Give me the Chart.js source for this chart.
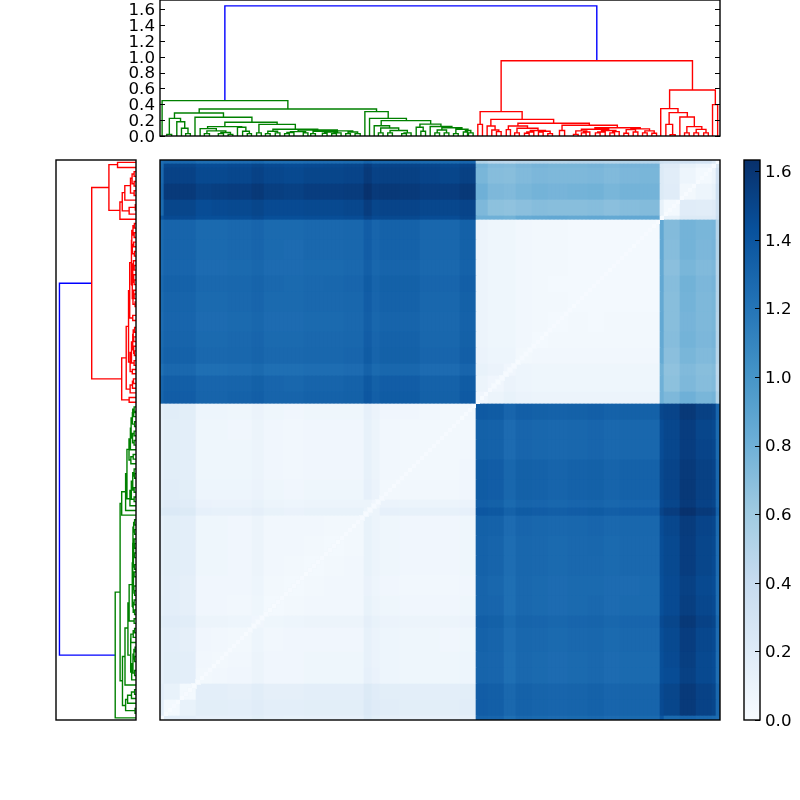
<!DOCTYPE html>
<html><head><meta charset="utf-8">
<style>html,body{margin:0;padding:0;background:#fff;width:800px;height:800px;overflow:hidden}canvas{position:absolute;left:0;top:0}</style>
<script src="https://cdn.jsdelivr.net/npm/chart.js@4"></script>
</head><body>
<canvas id="top" width="800" height="800"></canvas>
<canvas id="left" width="800" height="800"></canvas>
<canvas id="heat" width="800" height="800"></canvas>
<canvas id="bar" width="800" height="800"></canvas>
<script>
// Dendrogram links: [leafLeft, leafRight, height, heightLeft, heightRight]
const blueLinks=[[13.9,93.6,1.642,.446,.95]];
const greenLinks=[
[0.45,27.4,.446,0,.341],[8.4,46.4,.341,.29,.307],[3.1,13.6,.29,.223,.236],[2.0,4.4,.223,.02,.18],[1.45,2.5,.02,0,0],
[3.6,5.3,.18,0,.097],[4.6,6,.097,0,.03],[5.5,6.5,.03,0,0],[7.5,19.7,.236,0,.173],[13.9,25.1,.173,.118,.147],
[10.2,17.5,.118,.093,.11],[8.6,12.07,.093,0,.065],[10.05,14.1,.065,.03,.045],[9.5,10.6,.03,0,0],[13.05,15.1,.045,.03,.02],
[12.5,13.6,.03,0,0],[14.6,15.6,.02,0,0],[16.6,18.4,.11,0,.06],[17.7,19.15,.06,0,.03],[18.7,19.6,.03,0,0],
[21.2,29,.147,.04,.085],[20.7,21.7,.04,0,0],[24.2,33.8,.085,.06,.075],[23.1,25.2,.06,.03,.04],[22.6,23.6,.03,0,0],[24.7,25.7,.04,0,0],
[29.6,38,.075,.055,.065],[27.95,31.2,.055,.045,.04],[27.2,28.7,.045,.03,0],[26.7,27.7,.03,0,0],[30.7,31.7,.04,0,0],
[34.75,41.3,.065,.06,.05],[32.8,36.7,.06,.03,.05],[32.3,33.3,.03,0,0],[35.3,38.05,.05,.035,.04],[34.8,35.8,.035,0,0],
[37.3,38.8,.04,.03,0],[36.8,37.8,.03,0,0],[40.3,42.35,.05,.03,.03],[39.8,40.8,.03,0,0],[41.8,42.9,.03,0,0],
[43.9,48.9,.307,0,.223],[44.9,52.8,.223,0,.194],[47.4,58,.194,.13,.15],[45.9,49.2,.13,0,.1],[47.3,51.15,.1,.04,.07],
[46.8,47.8,.04,0,0],[49.3,53,.07,.04,.04],[48.8,49.8,.04,0,0],[52.3,53.8,.04,.03,0],[51.8,52.8,.03,0,0],
[55.7,60.2,.15,.11,.12],[54.9,56.4,.11,0,.06],[55.9,56.9,.06,0,0],[57.9,62.55,.12,0,.105],[60.4,64.7,.105,.075,.085],
[59.4,61.4,.075,.04,.04],[58.9,59.9,.04,0,0],[60.9,61.9,.04,0,0],[63.4,66,.085,.03,.07],[62.9,63.9,.03,0,0],
[65.45,66.6,.07,.05,.04],[65,65.9,.05,0,0],[66.1,67.1,.04,0,0]];
const redLinks=[
[73.1,114.1,.95,.307,.581],[68.6,77.6,.307,.147,.21],[68.1,69.1,.147,0,0],[70.9,84.35,.21,.126,.16],[70.1,71.8,.126,0,.076],
[71.1,72.6,.076,0,.055],[72.1,73.1,.055,0,0],[76.7,92,.16,.126,.135],[74.65,78.75,.126,.08,.097],[74.2,75.1,.08,0,0],
[76.5,81,.097,.04,.07],[76,77,.04,0,0],[79.35,82.6,.07,.05,.06],[78.6,80.1,.05,.035,0],[78.1,79.1,.035,0,0],
[81.6,83.6,.06,.05,.03],[81.1,82.1,.05,0,0],[83.1,84.1,.03,0,0],[86.15,98,.135,.07,.105],[85.6,86.7,.07,0,0],
[93.2,102.9,.105,.085,.09],[90.3,96.15,.085,.065,.07],[89.1,91.45,.065,.02,.05],[88.6,89.6,.02,0,0],[90.8,92.1,.05,.04,0],
[90.3,91.3,.04,0,0],[94.6,97.7,.07,.05,.055],[93.8,95.4,.05,.04,0],[93.3,94.3,.04,0,0],[97,98.4,.055,.04,0],[96.4,97.4,.04,0,0],
[100.9,104.9,.09,.08,.065],[99.9,101.9,.08,.035,.05],[99.4,100.4,.035,0,0],[101.4,102.4,.05,0,0],[103.9,105.9,.065,.04,.035],
[103.4,104.4,.04,0,0],[105.4,106.4,.035,0,0],
[109.2,119,.581,.345,.396],[107.3,111,.345,0,.295],[109.1,113,.295,.147,.24],[108.4,109.85,.147,0,.015],[109.3,110.4,.015,0,0],
[111.4,114.5,.24,0,.118],[112.9,116.1,.118,.04,.084],[112.4,113.4,.04,0,0],[114.9,117,.084,.04,.04],[114.4,115.4,.04,0,0],
[116.5,117.5,.04,0,0],[118.4,119.5,.396,0,0]];
const heightTicks=[0,.2,.4,.6,.8,1,1.2,1.4,1.6];
const colorTicks=[0,.2,.4,.6,.8,1,1.2,1.4,1.6];
const colorMax=1.633;
const blues=['#f7fbff','#deebf7','#c6dbef','#9ecae1','#6baed6','#4292c6','#2171b5','#08519c','#08306b'];

// Groups of leaves sharing one cell value along each matrix side
const bandSizes=[1,4,4,4,4,6,3,5,5,5,5,5,2,2,5,5,5,5,4, 3,4,3,4,4,5,5,4,4,5,5, 1,4,4,4,1,1];
// Distance matrix (hundredths), upper triangle by band
const heatTriangle=[
[2,16,16,14,14,14,17,14,13,14,14,14,21,17,15,14,14,14,15, 131,130,124,128,127,126,127,128,126,127,127, 140,127,130,128,127,125],
[3,12,17,17,16,19,16,16,17,17,17,23,20,18,17,17,17,18, 135,134,128,132,131,130,131,132,130,131,131, 147,150,157,152,150,129],
[3,16,16,15,18,15,15,16,16,16,22,19,17,16,16,16,17, 135,134,128,132,131,130,131,132,130,131,131, 147,150,157,152,150,129],
[4,5,6,9,6,6,7,7,7,14,11,8,7,7,7,8, 131,130,124,128,127,126,127,128,126,127,127, 144,146,153,148,146,125],
[4,5,9,6,6,7,7,7,13,10,8,7,7,7,8, 131,130,124,128,127,126,127,128,126,127,127, 144,147,154,148,146,125],
[4,8,5,6,6,6,6,13,10,8,7,7,6,7, 132,131,125,129,128,127,128,129,127,128,128, 145,148,155,149,147,126],
[6,7,8,9,9,9,15,12,10,9,9,9,10, 134,133,127,131,130,129,130,131,129,130,130, 147,150,158,152,150,128],
[3,4,5,5,5,12,9,7,6,6,6,7, 131,130,124,128,127,126,127,128,126,127,127, 144,147,154,149,147,125],
[3,4,5,5,11,8,6,5,5,5,6, 131,129,124,128,127,126,127,127,126,126,127, 144,147,153,148,146,125],
[3,4,5,12,9,7,6,6,6,7, 132,131,125,129,128,127,128,128,127,128,128, 145,148,155,150,147,126],
[3,4,12,9,7,6,6,6,7, 132,131,125,129,128,127,128,129,127,128,128, 145,148,155,150,148,126],
[4,12,9,7,6,6,6,7, 133,132,126,130,129,128,129,130,128,129,129, 146,149,156,151,149,127],
[8,9,14,13,13,13,14, 139,138,132,136,135,134,135,136,134,135,135, 151,155,162,157,155,132],
[6,10,9,9,9,10, 134,133,127,131,130,129,130,131,129,130,130, 147,150,157,152,150,128],
[4,5,5,5,6, 136,135,129,133,132,131,132,133,131,132,132, 148,151,158,153,151,129],
[4,4,4,6, 136,135,129,133,132,131,132,133,131,132,132, 148,151,157,153,151,129],
[4,4,5, 133,132,126,130,129,128,129,130,128,129,129, 146,149,155,151,149,127],
[4,4, 133,132,126,130,129,128,129,130,128,129,129, 146,149,155,150,148,127],
[5, 137,136,130,134,133,132,133,134,132,133,133, 149,151,158,153,151,130],
[6,9,12,10,9,9,9,9,9,9,9, 80,74,80,76,78,52],
[6,10,8,7,7,7,7,7,7,7, 80,68,74,71,73,47],
[6,8,7,7,7,7,7,7,7, 79,67,73,70,72,46],
[4,5,5,5,5,5,5,5, 84,69,76,73,75,49],
[3,4,4,4,4,4,4, 85,71,78,75,77,50],
[3,4,3,4,4,4, 86,70,77,74,76,49],
[3,3,3,3,3, 85,70,78,74,76,50],
[3,3,3,3, 86,71,79,75,77,50],
[3,3,3, 85,69,76,73,75,49],
[3,3, 86,71,78,75,77,51],
[3, 86,72,78,76,77,50],
[0,12,22,22,22,35],
[3,19,18,20,32],
[4,8,12,33],
[3,8,30],
[0,22],
[0]];
// Self-distance along the diagonal (hundredths), one per leaf
const diagValues=[
0,0,0,1,0,0,1,0,0,0,0,1,1,0,0,1,1,1,1,1,
1,0,1,1,1,1,1,0,0,1,1,1,1,1,1,1,0,1,1,1,
1,1,1,1,0,1,1,1,0,1,1,1,1,1,1,1,1,1,0,1,
1,1,0,1,1,1,1,1,1,1,1,1,1,1,1,0,1,1,1,0,
0,1,1,1,0,1,1,1,1,0,1,1,1,1,1,0,0,1,1,1,
1,1,1,0,1,1,1,1,1,1,1,1,0,1,1,1,1,1,0,1,
1,1,1,0,0,0,0,0,0,0,0,0,0,0,0,0,0,0,0,0];
// Low-distance strip next to the diagonal (hundredths), one per leaf
const nearDiagValues=[
null,null,null,null,null,null,4,4,4,4,4,4,4,4,4,4,4,4,4,4,
4,4,4,4,4,4,4,4,4,4,4,4,4,4,4,4,4,4,4,4,
4,4,4,4,4,4,4,4,4,4,4,4,4,4,4,4,4,4,4,4,
4,4,4,4,4,4,4,4,4,4,4,4,4,4,4,4,null,null,null,null,
null,null,null,3,3,3,3,3,3,3,3,3,3,3,3,3,3,3,3,3,
3,3,3,3,3,3,3,3,3,3,3,3,3,3,3,3,3,3,3,3,null,null];

Chart.defaults.font.family='"DejaVu Sans"';
Chart.defaults.font.size=16.67;
Chart.defaults.color='#000';

function hex(h){return [1,3,5].map(i=>parseInt(h.slice(i,i+2),16));}
function colorOf(v){
  const t=Math.min(1,Math.max(0,v/colorMax))*(blues.length-1),i=Math.min(blues.length-2,Math.floor(t)),f=t-i;
  const a=hex(blues[i]),b=hex(blues[i+1]);
  return 'rgb('+a.map((x,k)=>Math.round(x+(b[k]-x)*f)).join(',')+')';
}
function framePlugin(tickSides){return {id:'frame',afterDraw(chart){
  const {ctx,chartArea:a}=chart;ctx.save();ctx.strokeStyle='#000';ctx.lineWidth=1;
  if(tickSides){ctx.beginPath();
    chart.scales.y.ticks.forEach(t=>{const p=Math.round(chart.scales.y.getPixelForValue(t.value))+.5;
      if(tickSides.left){ctx.moveTo(a.left,p);ctx.lineTo(a.left+5,p);}
      if(tickSides.right){ctx.moveTo(a.right,p);ctx.lineTo(a.right-5,p);}});
    ctx.stroke();}
  ctx.lineWidth=1.4;ctx.strokeRect(a.left,a.top,a.right-a.left,a.bottom-a.top);ctx.restore();}};}
const baseOpts={responsive:false,animation:false,devicePixelRatio:1,events:[],plugins:{legend:{display:false},tooltip:{enabled:false}}};
const hiddenAxis={display:false,grid:{display:false}};
function pad(l,t,r,b){return {autoPadding:false,padding:{left:l,top:t,right:r,bottom:b}};}
function valueAxis(pos,max,vals,padding,width){return {type:'linear',position:pos,min:0,max:max,
  grid:{display:false,drawTicks:false},border:{display:false},
  afterBuildTicks:s=>{s.ticks=vals.map(v=>({value:v}));},
  afterFit:s=>{s.width=width;s.paddingTop=0;s.paddingBottom=0;s.paddingLeft=0;s.paddingRight=0;},
  ticks:{autoSkip:false,padding:padding,labelOffset:1.5,callback:v=>Number(v).toFixed(1)}};}

function linkPoints(links,swap){
  const pts=[];
  links.forEach(([a,b,h,ha,hb])=>{
    [[a,ha],[a,h],[b,h],[b,hb]].forEach(([u,v])=>pts.push(swap?{x:v,y:u}:{x:u,y:v}));
    pts.push({x:NaN,y:NaN});
  });
  return pts;
}
function treeSets(swap){return [[greenLinks,'#008000'],[redLinks,'#ff0000'],[blueLinks,'#0000ff']].map(([l,c])=>({
  data:linkPoints(l,swap),showLine:true,pointRadius:0,borderColor:c,borderWidth:1.4,spanGaps:false,tension:0}));}

new Chart('top',{type:'scatter',data:{datasets:treeSets(false)},plugins:[framePlugin({left:true,right:true})],
 options:{...baseOpts,layout:pad(0,0,80,664),scales:{
  x:{type:'linear',min:0,max:120,...hiddenAxis},
  y:valueAxis('left',1.716,heightTicks,5,160)}}});

new Chart('left',{type:'scatter',data:{datasets:treeSets(true)},plugins:[framePlugin(null)],
 options:{...baseOpts,layout:pad(56,160,664,80),scales:{
  x:{type:'linear',min:0,max:1.716,reverse:true,...hiddenAxis},
  y:{type:'linear',min:0,max:120,...hiddenAxis}}}});

// Heatmap: one stacked bar dataset per band of rows, one column per grid step
const bandOfLeaf=[];bandSizes.forEach((n,b)=>{for(let k=0;k<n;k++)bandOfLeaf.push(b);});
const leafLabels=bandOfLeaf.map((_,i)=>String(i));
function cell(r,c){return (r<=c?heatTriangle[r][c-r]:heatTriangle[c][r-c])/100;}
const heatSets=bandSizes.map((size,r)=>({type:'bar',label:'band '+r,
  data:leafLabels.map(()=>size),
  backgroundColor:bandOfLeaf.map(c=>colorOf(cell(r,c))),
  borderWidth:0,barPercentage:1,categoryPercentage:1,order:1,stack:'cells'}));
heatSets.push({type:'line',label:'near diagonal',stack:'near',order:-1,showLine:false,pointStyle:'rect',
  data:nearDiagValues.map((v,i)=>v===null?null:i+.5),pointRadius:4.2,pointBorderWidth:0,
  pointBackgroundColor:nearDiagValues.map(v=>colorOf((v||0)/100))});
heatSets.push({type:'line',label:'diagonal',stack:'diag',order:-2,showLine:false,pointStyle:'rect',
  data:diagValues.map((v,i)=>i+.5),pointRadius:2.83,pointBorderWidth:0,
  pointBackgroundColor:diagValues.map(v=>colorOf(v/100))});
new Chart('heat',{type:'bar',data:{labels:leafLabels,datasets:heatSets},plugins:[framePlugin(null)],
 options:{...baseOpts,layout:pad(160,160,80,80),scales:{
  x:{type:'category',stacked:true,...hiddenAxis},
  y:{type:'linear',stacked:true,min:0,max:bandOfLeaf.length,...hiddenAxis}}}});

// Colour bar
new Chart('bar',{type:'bar',data:{labels:['v'],datasets:[{data:[colorMax],borderWidth:0,barPercentage:1,categoryPercentage:1,
  backgroundColor(ctx){const a=ctx.chart.chartArea;if(!a)return blues[4];
    const g=ctx.chart.ctx.createLinearGradient(0,a.bottom,0,a.top);
    blues.forEach((c,i)=>g.addColorStop(i/(blues.length-1),c));return g;}}]},
 plugins:[framePlugin({right:true})],
 options:{...baseOpts,layout:pad(744,160,0,80),scales:{
  x:{type:'category',...hiddenAxis},
  y:valueAxis('right',colorMax,colorTicks,5,40)}}});
</script>
</body></html>
